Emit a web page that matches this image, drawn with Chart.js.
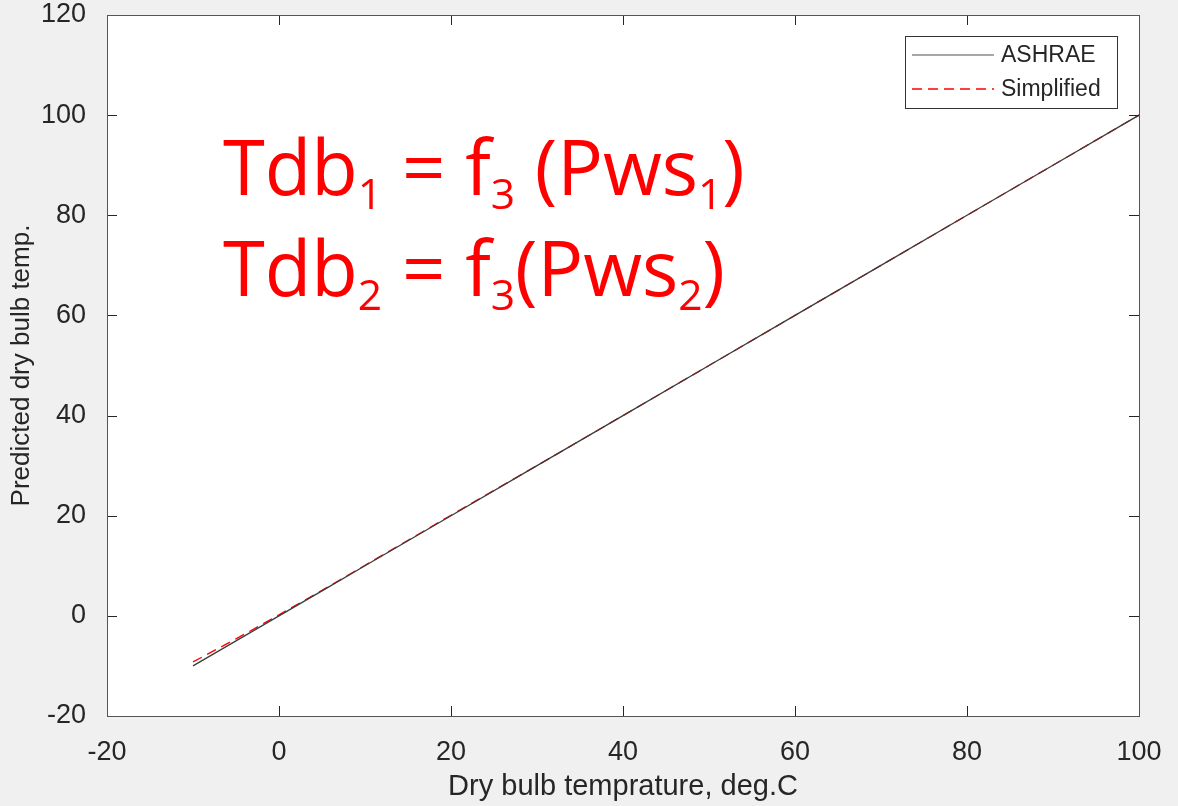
<!DOCTYPE html>
<html lang="en">
<head>
    <meta charset="UTF-8">
    <title>Predicted dry bulb temperature</title>
    <script src="https://cdn.jsdelivr.net/npm/chart.js"></script>
    <style>
        html, body {
            margin: 0;
            padding: 0;
            background: #f0f0f0;
        }
        .wrap {
            position: relative;
            width: 1178px;
            height: 806px;
        }
        .formula {
            position: absolute;
            left: 223px;
            color: #ff0000;
            font-family: "Open Sans", "Noto Sans", sans-serif;
            font-size: 76px;
            line-height: 1;
            white-space: nowrap;
        }
        .formula .s {
            font-size: 0.56em;
            position: relative;
            top: 0.32em;
        }
    </style>
</head>
<body>
    <div class="wrap">
        <canvas id="chart" width="1178" height="806"></canvas>
        <div class="formula" style="top:128px">Tdb<span class="s">1</span> = f<span class="s">3</span> (Pws<span class="s">1</span>)</div>
        <div class="formula" style="top:229px">Tdb<span class="s">2</span> = f<span class="s">3</span>(Pws<span class="s">2</span>)</div>
    </div>

    <script>
        // dry bulb temperature, deg.C
        const dryBulb = [-10, -5, 0, 5, 10, 20, 30, 40, 50, 60, 70, 80, 90, 100];
        const ashrae = [-10, -5, 0, 5, 10, 20, 30, 40, 50, 60, 70, 80, 90, 100];
        const simplified = [-9.2, -4.6, 0.2, 5.1, 10.1, 20.1, 30, 40, 50, 60, 70, 80, 90, 100];
        const xTicks = [-20, 0, 20, 40, 60, 80, 100];
        const yTicks = [-20, 0, 20, 40, 60, 80, 100, 120];

        const toPoints = ys => dryBulb.map((x, i) => ({x: x, y: ys[i]}));

        // white plot area, box, inward ticks (matlab style)
        const boxPlugin = {
            id: 'box',
            beforeDraw(chart) {
                const a = chart.chartArea, c = chart.ctx;
                c.save();
                c.fillStyle = '#ffffff';
                c.fillRect(a.left, a.top, a.right - a.left, a.bottom - a.top);
                c.restore();
            },
            afterDatasetsDraw(chart) {
                const a = chart.chartArea, c = chart.ctx;
                const xs = chart.scales.x, ys = chart.scales.y;
                c.save();
                c.strokeStyle = '#262626';
                c.lineWidth = 1;
                c.beginPath();
                xTicks.forEach(v => {
                    const p = Math.round(xs.getPixelForValue(v)) + 0.5;
                    c.moveTo(p, a.bottom); c.lineTo(p, a.bottom - 10);
                    c.moveTo(p, a.top); c.lineTo(p, a.top + 10);
                });
                yTicks.forEach(v => {
                    const p = Math.round(ys.getPixelForValue(v)) + 0.5;
                    c.moveTo(a.left, p); c.lineTo(a.left + 10, p);
                    c.moveTo(a.right, p); c.lineTo(a.right - 10, p);
                });
                c.stroke();
                c.strokeStyle = '#555555';
                c.strokeRect(Math.round(a.left) + 0.5, Math.round(a.top) + 0.5,
                    Math.round(a.right - a.left), Math.round(a.bottom - a.top));

                // legend box
                const lx = 905, ly = 36, lw = 212, lh = 72;
                c.fillStyle = '#ffffff';
                c.fillRect(lx, ly, lw, lh);
                c.strokeStyle = '#333333';
                c.strokeRect(lx + 0.5, ly + 0.5, lw, lh);
                c.font = '23px "Liberation Sans", Arial, sans-serif';
                c.textBaseline = 'middle';
                chart.data.datasets.forEach((ds, i) => {
                    const yy = ly + 19 + i * 34;
                    c.strokeStyle = i === 0 ? '#8a8a8a' : ds.borderColor;
                    c.lineWidth = ds.borderWidth;
                    c.setLineDash(ds.borderDash || []);
                    c.beginPath();
                    c.moveTo(lx + 7, yy); c.lineTo(lx + 89, yy);
                    c.stroke();
                    c.setLineDash([]);
                    c.fillStyle = '#262626';
                    c.fillText(ds.label, lx + 96, yy + 1);
                });
                c.restore();
            }
        };

        const family = '"Liberation Sans", Arial, sans-serif';

        new Chart(document.getElementById('chart'), {
            type: 'line',
            data: {
                datasets: [{
                    label: 'ASHRAE',
                    data: toPoints(ashrae),
                    borderColor: '#3c3c3c',
                    borderWidth: 1.3,
                    pointRadius: 0,
                    fill: false
                }, {
                    label: 'Simplified',
                    data: toPoints(simplified),
                    borderColor: '#ff0000',
                    borderWidth: 1.3,
                    borderDash: [10, 6],
                    pointRadius: 0,
                    fill: false
                }]
            },
            options: {
                responsive: false,
                animation: false,
                layout: {padding: {top: 15, right: 39, left: 0, bottom: 0}},
                plugins: {legend: {display: false}, tooltip: {enabled: false}},
                scales: {
                    x: {
                        type: 'linear',
                        min: -20, max: 100,
                        afterBuildTicks: s => { s.ticks = xTicks.map(v => ({value: v})); },
                        afterFit: s => { s.height = 90; s.paddingLeft = 0; s.paddingRight = 0; },
                        grid: {display: false},
                        border: {display: false},
                        ticks: {color: '#262626', font: {family: family, size: 27}, padding: 12, maxRotation: 0},
                        title: {display: true, text: 'Dry bulb temprature, deg.C', color: '#262626',
                            font: {family: family, size: 29}, padding: {top: 4, bottom: 2}}
                    },
                    y: {
                        min: -20, max: 120,
                        afterBuildTicks: s => { s.ticks = yTicks.map(v => ({value: v})); },
                        afterFit: s => { s.width = 107; s.paddingTop = 0; s.paddingBottom = 0; },
                        grid: {display: false},
                        border: {display: false},
                        ticks: {color: '#262626', font: {family: family, size: 27}, padding: 13},
                        title: {display: true, text: 'Predicted dry bulb temp.', color: '#262626',
                            font: {family: family, size: 26}, padding: {top: 6, bottom: 0}}
                    }
                }
            },
            plugins: [boxPlugin]
        });
    </script>
</body>
</html>
